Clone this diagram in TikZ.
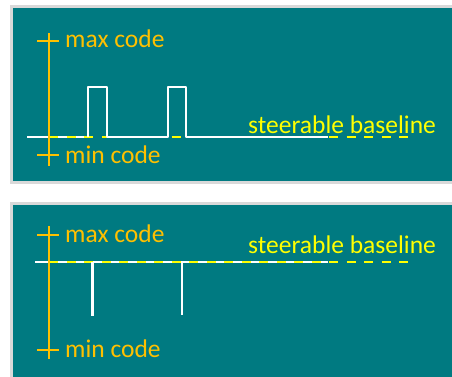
\documentclass[tikz,border=0pt]{standalone}
\usepackage{fontspec}
\setmainfont{Carlito}
\definecolor{teal1}{RGB}{0,122,129}
\definecolor{gold1}{RGB}{255,192,0}
\definecolor{yel1}{RGB}{255,255,0}
\definecolor{frame1}{RGB}{217,217,217}
\begin{document}
\begin{tikzpicture}[x=1pt,y=-1pt,
  panel/.style={fill=teal1,draw=frame1,line width=3pt},
  axisline/.style={draw=gold1,line width=2.5pt},
  lbl/.style={text=gold1,font=\fontsize{25.5}{30}\selectfont,inner sep=0pt,anchor=base west},
  blbl/.style={text=yel1,font=\fontsize{25.5}{30}\selectfont,inner sep=0pt,anchor=base west},
  sig/.style={draw=white,line width=2.5pt},
  ydash/.style={draw=yel1,line width=2.5pt,dash pattern=on 9pt off 8.5pt}]
\useasboundingbox (0,0) rectangle (452,376);
\fill[white] (0,0) rectangle (452,376);
% panels
\draw[panel] (11.5,6.5) rectangle (460,182.5);
\draw[panel] (11.5,203.5) rectangle (460,390);
% ---- top panel ----
\coordinate (t0) at (27,137);
\coordinate (t1) at (88,137);
\coordinate (t2) at (88,87);
\coordinate (t3) at (107,87);
\coordinate (t4) at (107,137);
\coordinate (t5) at (168,137);
\coordinate (t6) at (168,87);
\coordinate (t7) at (186,87);
\coordinate (t8) at (186,137);
\coordinate (t9) at (328,137);
\coordinate (ta) at (49,137);
\coordinate (tb) at (410,137);
\draw[sig] (t0) -- (t1);
\draw[ydash] (ta) -- (tb);
\draw[sig,line join=round] (t1) -- (t2) -- (t3) -- (t4) -- (t5) -- (t6) -- (t7) -- (t8) -- (t9);
\coordinate (ax1) at (49,33);
\coordinate (ax2) at (49,166);
\draw[axisline] (ax1) -- (ax2);
\coordinate (m1) at (37,41); \coordinate (m2) at (59,41);
\coordinate (n1) at (37,155); \coordinate (n2) at (59,155);
\draw[axisline] (m1) -- (m2);
\draw[axisline] (n1) -- (n2);
\node[lbl] (maxA) at (65,47) {max code};
\node[lbl] (minA) at (65,163) {min code};
\node[blbl] (sbA) at (248,133) {steerable baseline};
% ---- bottom panel ----
\coordinate (b0) at (35,262);
\coordinate (b9) at (328,262);
\coordinate (ba) at (49,262);
\coordinate (bb) at (410,262);
\draw[sig] (b0) -- (b9);
\draw[ydash] (ba) -- (bb);
\coordinate (s1a) at (92,262); \coordinate (s1b) at (92,316);
\coordinate (s2a) at (182,262); \coordinate (s2b) at (182,315);
\draw[sig,line width=3pt] (s1a) -- (s1b);
\draw[sig] (s2a) -- (s2b);
\coordinate (bx1) at (49,226);
\coordinate (bx2) at (49,359);
\draw[axisline] (bx1) -- (bx2);
\coordinate (p1) at (37,235); \coordinate (p2) at (59,235);
\coordinate (q1) at (37,350); \coordinate (q2) at (59,350);
\draw[axisline] (p1) -- (p2);
\draw[axisline] (q1) -- (q2);
\node[lbl] (maxB) at (65,242) {max code};
\node[lbl] (minB) at (65,357) {min code};
\node[blbl] (sbB) at (248,253) {steerable baseline};
\end{tikzpicture}
\end{document}
